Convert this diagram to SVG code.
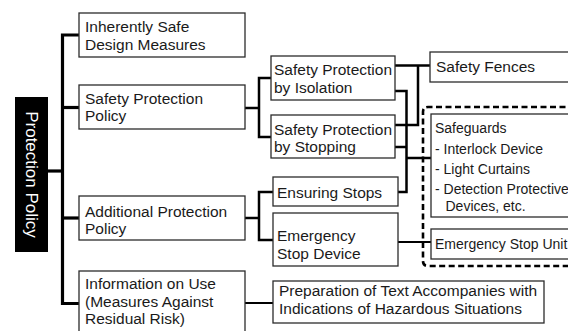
<svg xmlns="http://www.w3.org/2000/svg" width="568" height="331" viewBox="0 0 568 331">
<style>
.box{fill:#fff;stroke:#2b2b2b;stroke-width:1.3}
.t{font-family:"Liberation Sans",Arial,sans-serif;font-size:15.5px;fill:#1a1a1a}
.s{font-family:"Liberation Sans",Arial,sans-serif;font-size:14px;fill:#1a1a1a}
.main{fill:none;stroke:#000;stroke-width:3.2}
.sub{fill:none;stroke:#000;stroke-width:2.5}
.thin{fill:none;stroke:#000;stroke-width:2}
.dash{fill:none;stroke:#000;stroke-width:2.6;stroke-dasharray:6 3.5}
</style>
<rect width="568" height="331" fill="#fff"/>
<g id="connectors">
<path class="main" d="M48 171 H62.5"/>
<path class="main" d="M79 35 H62.5 V303.5 H79"/>
<path class="main" d="M62.5 107.5 H79"/>
<path class="main" d="M62.5 218 H79"/>
<path class="sub" d="M245 108 H259"/>
<path class="sub" d="M271 78 H259 V137 H271"/>
<path class="sub" d="M245 218 H259"/>
<path class="sub" d="M273 192 H259 V240 H273"/>
<path class="sub" d="M395 65.5 H430"/>
<path class="sub" d="M395 125 H418 V65.5"/>
<path class="sub" d="M395 91 H406.5 V192 H398"/>
<path class="sub" d="M395 147 H406.5"/>
<path class="sub" d="M406.5 158 H431"/>
<path class="thin" d="M398 242 H431"/>
<path class="thin" d="M245 303 H273"/>
<path class="dash" d="M575 107 H428 Q423 107 423 112 V261 Q423 266 428 266 H575"/>
</g>
<g id="root">
<rect x="15" y="97" width="33" height="155" fill="#000"/>
<text transform="translate(25.5,174.5) rotate(90)" text-anchor="middle" font-family="'Liberation Sans',Arial,sans-serif" font-size="17" fill="#fff">Protection Policy</text>
</g>
<g id="inherent">
<rect class="box" x="79" y="13" width="166" height="44"/>
<text class="t" x="85" y="32">Inherently Safe</text>
<text class="t" x="85" y="50">Design Measures</text>
</g>
<g id="spp">
<rect class="box" x="79" y="85" width="166" height="44"/>
<text class="t" x="85" y="103.5">Safety Protection</text>
<text class="t" x="85" y="121">Policy</text>
</g>
<g id="app">
<rect class="box" x="79" y="196" width="166" height="44"/>
<text class="t" x="85" y="216.5">Additional Protection</text>
<text class="t" x="85" y="234">Policy</text>
</g>
<g id="info">
<rect class="box" x="79" y="271" width="166" height="70"/>
<text class="t" x="85" y="289">Information on Use</text>
<text class="t" x="85" y="306.5">(Measures Against</text>
<text class="t" x="85" y="324">Residual Risk)</text>
</g>
<g id="isolation">
<rect class="box" x="271" y="56" width="124" height="44"/>
<text class="t" x="274" y="75">Safety Protection</text>
<text class="t" x="274" y="92.5">by Isolation</text>
</g>
<g id="stopping">
<rect class="box" x="271" y="115" width="124" height="43"/>
<text class="t" x="274" y="134.5">Safety Protection</text>
<text class="t" x="274" y="152">by Stopping</text>
</g>
<g id="ensuring">
<rect class="box" x="273" y="177" width="125" height="29"/>
<text class="t" x="277" y="197.5">Ensuring Stops</text>
</g>
<g id="esd">
<rect class="box" x="273" y="213" width="125" height="53"/>
<text class="t" x="277" y="241">Emergency</text>
<text class="t" x="277" y="258.5">Stop Device</text>
</g>
<g id="fences">
<rect class="box" x="430" y="52" width="150" height="30"/>
<text class="t" x="436" y="72">Safety Fences</text>
</g>
<g id="safeguards">
<rect class="box" x="431" y="114" width="150" height="103"/>
<text class="s" x="435" y="132.5">Safeguards</text>
<text class="s" x="435" y="153.5">- Interlock Device</text>
<text class="s" x="435" y="173.5">- Light Curtains</text>
<text class="s" x="435" y="193.5">- Detection Protective</text>
<text class="s" x="445.5" y="211">Devices, etc.</text>
</g>
<g id="esu">
<rect class="box" x="431" y="229" width="150" height="30"/>
<text class="s" x="435" y="248.5">Emergency Stop Unit</text>
</g>
<g id="prep">
<rect class="box" x="273" y="281" width="271" height="42"/>
<text class="t" x="279" y="296">Preparation of Text Accompanies with</text>
<text class="t" x="279" y="313.5">Indications of Hazardous Situations</text>
</g>
</svg>
